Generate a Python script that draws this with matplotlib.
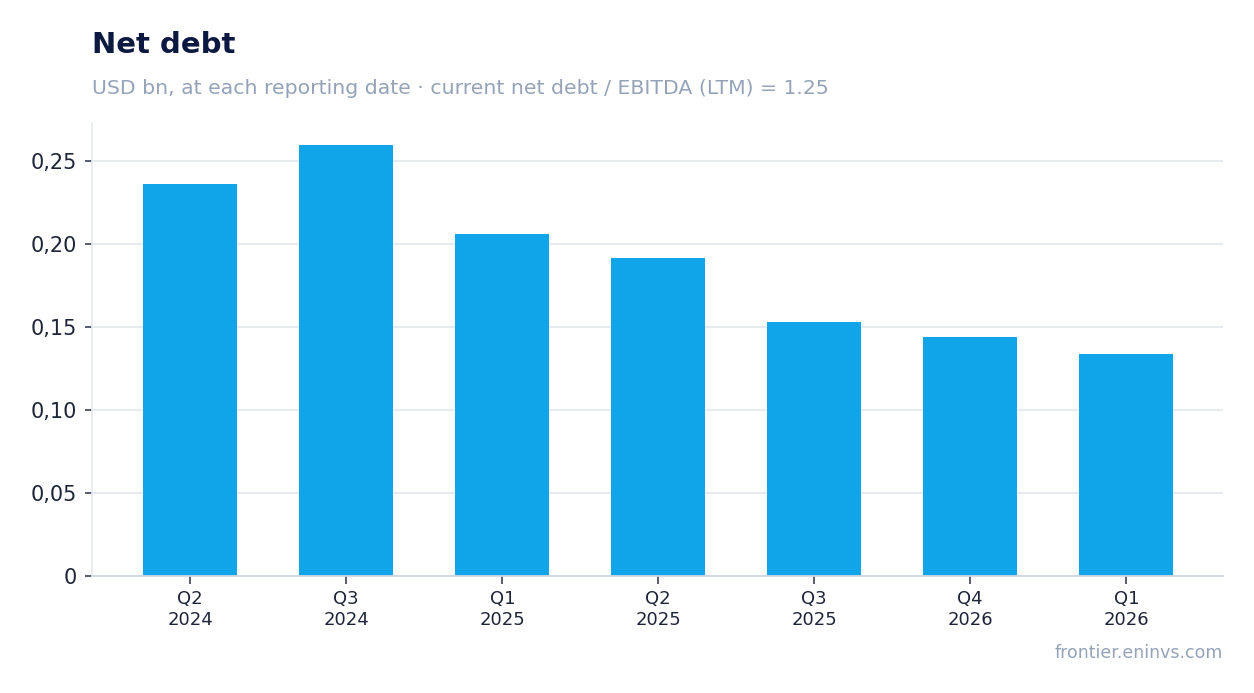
import matplotlib
matplotlib.use("Agg")
import matplotlib.pyplot as plt
from matplotlib.ticker import FuncFormatter, MultipleLocator

categories = ["Q2\n2024", "Q3\n2024", "Q1\n2025", "Q2\n2025", "Q3\n2025", "Q4\n2026", "Q1\n2026"]
net_debt = [0.236, 0.2595, 0.206, 0.1915, 0.153, 0.144, 0.1337]

title = "Net debt"
subtitle = "USD bn, at each reporting date · current net debt / EBITDA (LTM) = 1.25"
footer = "frontier.eninvs.com"

plt.rcParams['font.family'] = ['DejaVu Sans']

fig = plt.figure(figsize=(12.54, 6.93), dpi=100)
ax = fig.add_axes([92/1254, 1-576/693, (1223-92)/1254, (576-123)/693])

x = list(range(len(categories)))
ax.bar(x, net_debt, width=0.6, color="#10a5e8", zorder=3)

ax.set_xlim(-0.63, 6.62)
ax.set_ylim(0, 0.2729)
ax.yaxis.set_major_locator(MultipleLocator(0.05))

def fmt(v, pos):
    if abs(v) < 1e-9:
        return "0"
    return f"{v:.2f}".replace(".", ",")
ax.yaxis.set_major_formatter(FuncFormatter(fmt))

ax.set_xticks(x)
ax.set_xticklabels(categories, fontsize=13, color="#1e2538", linespacing=1.2)
ax.tick_params(axis='y', labelsize=15, labelcolor="#1e2538", color="#3a4150", length=5, width=1.2, pad=6)
ax.tick_params(axis='x', color="#3a4150", length=6, width=1.2, pad=4)

ax.grid(axis='y', color="#e5e9f0", linewidth=1.3, zorder=0)
for s in ["top", "right"]:
    ax.spines[s].set_visible(False)
ax.spines["left"].set_color("#e5e9f0")
ax.spines["left"].set_linewidth(1.2)
ax.spines["bottom"].set_color("#cfd6e2")
ax.spines["bottom"].set_linewidth(1.3)
ax.spines["bottom"].set_zorder(4)

fig.text(92/1254, 1-53/693, title, fontsize=21, fontweight='bold', color="#0c1a42", va='baseline', ha='left')
fig.text(92/1254, 1-94/693, subtitle, fontsize=14.7, color="#94a3b8", va='baseline', ha='left')
fig.text(1223/1254, 1-658/693, footer, fontsize=12.5, color="#94a3b8", va='baseline', ha='right')

fig.savefig("out.png", dpi=100, facecolor="white")
